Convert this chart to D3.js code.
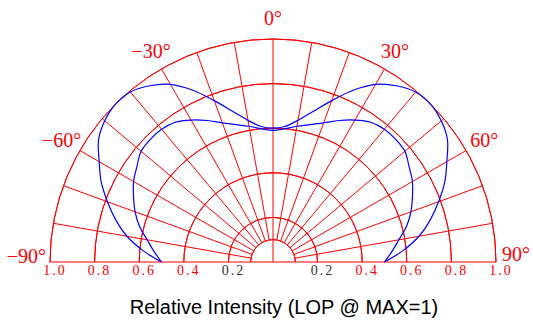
<!DOCTYPE html>
<html>
<head>
<meta charset="utf-8">
<script src="https://cdn.jsdelivr.net/npm/d3@7"></script>
<style>
  body { margin: 0; background: #fff; }
  svg { display: block; }
</style>
</head>
<body>
<figure style="margin:0"></figure>
<script>
// angles in degrees, 0 = straight up
const angles = [-90, -85, -80, -75, -70, -65, -60, -55, -50, -45, -40, -35, -30, -25, -20, -15, -10, -5,
  0, 5, 10, 15, 20, 25, 30, 35, 40, 45, 50, 55, 60, 65, 70, 75, 80, 85, 90];
// relative intensity, outer (two-lobe) curve
const seriesA = [0.50, 0.585, 0.665, 0.73, 0.79, 0.85, 0.90, 0.955, 0.985, 1.0, 0.995, 0.965, 0.92, 0.85, 0.77, 0.70, 0.645, 0.61,
  0.60, 0.61, 0.645, 0.70, 0.77, 0.85, 0.92, 0.965, 0.995, 1.0, 0.985, 0.955, 0.90, 0.85, 0.79, 0.73, 0.665, 0.585, 0.50];
// relative intensity, inner curve
const seriesB = [0.50, 0.535, 0.573, 0.62, 0.658, 0.69, 0.722, 0.745, 0.772, 0.778, 0.777, 0.765, 0.735, 0.70, 0.664, 0.638, 0.618, 0.60,
  0.59, 0.60, 0.618, 0.638, 0.664, 0.70, 0.735, 0.765, 0.777, 0.778, 0.772, 0.745, 0.722, 0.69, 0.658, 0.62, 0.573, 0.535, 0.50];

const rings = [0.1, 0.2, 0.4, 0.6, 0.8, 1.0];
const spokes = [-80, -70, -60, -50, -40, -30, -20, -10, 10, 20, 30, 40, 50, 60, 70, 80];
const angleLabels = [-60, -30, 0, 30, 60];
const tickValues = [1.0, 0.8, 0.6, 0.4, 0.2];
const title = "Relative Intensity (LOP @ MAX=1)";

const width = 533, height = 320;
const cx = 273, cy = 262, R = 223;

const svg = d3.select('figure').append('svg')
  .attr('width', width).attr('height', height);

const r = d3.scaleLinear().domain([0, 1]).range([0, R]);
const a = d3.scaleLinear().domain([-90, 90]).range([-Math.PI / 2, Math.PI / 2]);

const g = svg.append('g').attr('transform', `translate(${cx},${cy})`);

// rings
const arc = d3.arc().startAngle(-Math.PI / 2).endAngle(Math.PI / 2);
g.selectAll('.ring').data(rings).enter()
  .append('path')
  .attr('d', d => arc({ innerRadius: r(d), outerRadius: r(d) }))
  .attr('fill', 'none')
  .attr('stroke', '#ff0000')
  .attr('stroke-width', 1);

// spokes
g.selectAll('.spoke').data(spokes).enter()
  .append('line')
  .attr('x1', d => r(0.1) * Math.sin(a(d)))
  .attr('y1', d => -r(0.1) * Math.cos(a(d)))
  .attr('x2', d => r(1) * Math.sin(a(d)))
  .attr('y2', d => -r(1) * Math.cos(a(d)))
  .attr('stroke', '#ff0000')
  .attr('stroke-width', 1);

// 0 degree axis and baseline
g.append('line')
  .attr('x1', 0).attr('y1', 0).attr('x2', 0).attr('y2', -r(1))
  .attr('stroke', '#ff0000').attr('stroke-width', 1);
g.append('line')
  .attr('x1', -r(1)).attr('y1', 0).attr('x2', r(1)).attr('y2', 0)
  .attr('stroke', '#ff0000').attr('stroke-width', 1.2);

// curves
const line = d3.lineRadial()
  .angle((d, i) => a(angles[i]))
  .radius(d => r(d))
  .curve(d3.curveCatmullRom);

[seriesA, seriesB].forEach(s => {
  g.append('path')
    .attr('d', line(s))
    .attr('fill', 'none')
    .attr('stroke', '#0000ff')
    .attr('stroke-width', 1.2);
});

// angle labels
const serif = '"Liberation Serif", "DejaVu Serif", serif';
const fmtDeg = d => (d < 0 ? '\u2212' + (-d) : d) + '°';
g.selectAll('.alabel').data(angleLabels).enter()
  .append('text')
  .attr('x', d => 244 * Math.sin(a(d)))
  .attr('y', d => -244 * Math.cos(a(d)))
  .attr('dy', '0.35em')
  .attr('text-anchor', 'middle')
  .style('font-family', serif)
  .style('font-size', '20px')
  .style('fill', '#ff0000')
  .text(fmtDeg);

g.append('text')
  .attr('x', -r(1) - 4).attr('y', 1)
  .attr('text-anchor', 'end')
  .style('font-family', serif).style('font-size', '20px').style('fill', '#ff0000')
  .text(fmtDeg(-90));
g.append('text')
  .attr('x', r(1) + 6).attr('y', -1)
  .attr('text-anchor', 'start')
  .style('font-family', serif).style('font-size', '20px').style('fill', '#ff0000')
  .text(fmtDeg(90));

// radial tick labels on both sides
const ticks = tickValues.map(v => -v).concat(tickValues.slice().reverse());
g.selectAll('.tlabel').data(ticks).enter()
  .append('text')
  .attr('x', d => (d < 0 ? -r(-d) : r(d)) + 5)
  .attr('y', 13)
  .attr('text-anchor', 'middle')
  .style('font-family', serif)
  .style('font-size', '14px')
  .style('letter-spacing', '2px')
  .style('fill', d => Math.abs(d) === 0.2 ? '#333333' : '#ff0000')
  .text(d => Math.abs(d).toFixed(1));

// title
svg.append('text')
  .attr('x', 284).attr('y', 314)
  .attr('text-anchor', 'middle')
  .style('font-family', '"Liberation Sans", Arial, sans-serif')
  .style('font-size', '20px')
  .style('fill', '#000')
  .text(title);
</script>
</body>
</html>
